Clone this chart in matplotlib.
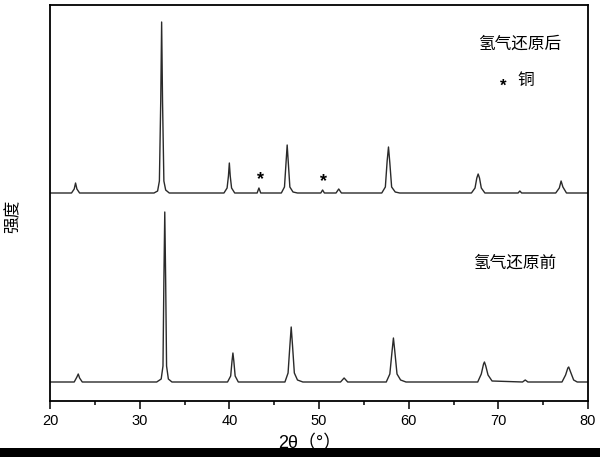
import matplotlib.pyplot as plt
from matplotlib.patches import Rectangle
from matplotlib.ticker import MultipleLocator

plt.rcParams['font.family'] = ['Liberation Sans', 'Noto Sans CJK SC', 'DejaVu Sans']

# XRD traces (2theta in degrees, intensity in arbitrary units)
# after H2 reduction (upper curve)
after_2theta = [20.0, 22.4, 22.7, 22.85, 23.0, 23.3,
                31.6, 32.0, 32.2, 32.35, 32.45, 32.55, 32.7, 32.9, 33.3,
                39.4, 39.75, 39.9, 40.0, 40.1, 40.25, 40.6,
                43.1, 43.3, 43.5,
                45.8, 46.15, 46.3, 46.45, 46.6, 46.75, 47.1, 47.6,
                50.2, 50.4, 50.6,
                51.9, 52.2, 52.5,
                57.0, 57.4, 57.6, 57.75, 57.9, 58.1, 58.5, 59.0,
                67.0, 67.4, 67.6, 67.75, 67.9, 68.1, 68.5,
                72.2, 72.4, 72.6,
                76.4, 76.8, 77.0, 77.2, 77.6, 80.0]
after_int = [208, 208, 212, 218, 212, 208,
             208, 210, 220, 300, 379, 300, 220, 211, 208,
             208, 213, 225, 238, 225, 213, 208,
             208, 213, 208,
             208, 214, 235, 256, 235, 214, 209, 208,
             208, 211, 208,
             208, 212, 208,
             208, 214, 240, 254, 238, 214, 209, 208,
             208, 213, 223, 227, 223, 213, 208,
             208, 210, 208,
             208, 213, 220, 214, 208, 208]

# before H2 reduction (lower curve)
before_2theta = [20.0, 22.7, 23.0, 23.15, 23.3, 23.6,
                 31.9, 32.4, 32.6, 32.7, 32.8, 32.9, 33.0, 33.2, 33.6,
                 39.8, 40.15, 40.3, 40.4, 40.5, 40.65, 41.0,
                 46.2, 46.55, 46.75, 46.9, 47.05, 47.25, 47.6, 48.2,
                 52.4, 52.8, 53.2,
                 57.5, 57.9, 58.15, 58.3, 58.45, 58.7, 59.1, 59.7,
                 67.7, 68.1, 68.35, 68.45, 68.6, 68.85, 69.3,
                 72.7, 73.0, 73.3,
                 77.1, 77.5, 77.75, 77.85, 78.1, 78.4, 78.8, 80.0]
before_int = [19, 19, 24, 27, 23, 19,
              19, 22, 35, 120, 189, 120, 35, 22, 19,
              19, 25, 40, 48, 40, 25, 19,
              19, 28, 55, 74, 55, 28, 21, 19,
              19, 23, 19,
              19, 27, 50, 63, 50, 27, 21, 19,
              19, 27, 37, 39, 35, 26, 20,
              19, 21, 19,
              19, 26, 33, 34, 28, 21, 19, 19]

# copper peaks marked with a star
cu_2theta = [43.5, 50.45]
cu_star_y = [221, 219]

fig = plt.figure(figsize=(6.0, 4.57), dpi=100)
ax = fig.add_axes([50 / 600, 56 / 457, 538 / 600, 396 / 457])

ax.plot(after_2theta, after_int, color='#2a2a2a', lw=1.0)
ax.plot(before_2theta, before_int, color='#2a2a2a', lw=1.0)

for x, y in zip(cu_2theta, cu_star_y):
    ax.text(x, y, '*', ha='center', va='center', fontsize=13, fontweight='bold')

ax.text(0.873, 0.902, '氢气还原后', transform=ax.transAxes, ha='center', va='center',
        fontsize=12, family=['Noto Sans CJK SC'])
ax.text(0.842, 0.795, '*', transform=ax.transAxes, ha='center', va='center',
        fontsize=12, fontweight='bold')
ax.text(0.884, 0.81, '铜', transform=ax.transAxes, ha='center', va='center',
        fontsize=12, family=['Noto Sans CJK SC'])
ax.text(0.863, 0.347, '氢气还原前', transform=ax.transAxes, ha='center', va='center',
        fontsize=12, family=['Noto Sans CJK SC'])

ax.set_xlim(20, 80)
ax.set_ylim(0, 396)
ax.xaxis.set_major_locator(MultipleLocator(10))
ax.xaxis.set_minor_locator(MultipleLocator(5))
ax.tick_params(axis='x', which='major', direction='out', length=5.8, width=1.1, labelsize=10.5)
ax.tick_params(axis='x', which='minor', direction='out', length=3, width=1.1)
ax.set_yticks([])
for s in ax.spines.values():
    s.set_linewidth(1.3)

fig.text(13 / 600, 1 - 216 / 457, '强度', rotation=90, ha='center', va='center',
         fontsize=12, family=['Noto Sans CJK SC'])
fig.text(310 / 600, 1 - 444 / 457, '2θ（°）', ha='center', va='center',
         fontsize=13, family=['Liberation Sans', 'Noto Sans CJK SC'])

# dark strip along the bottom edge of the source image
fig.patches.append(Rectangle((0, 0), 1, 9 / 457, transform=fig.transFigure,
                             facecolor='black', edgecolor='none', zorder=10))

fig.savefig('out.png', dpi=100)
